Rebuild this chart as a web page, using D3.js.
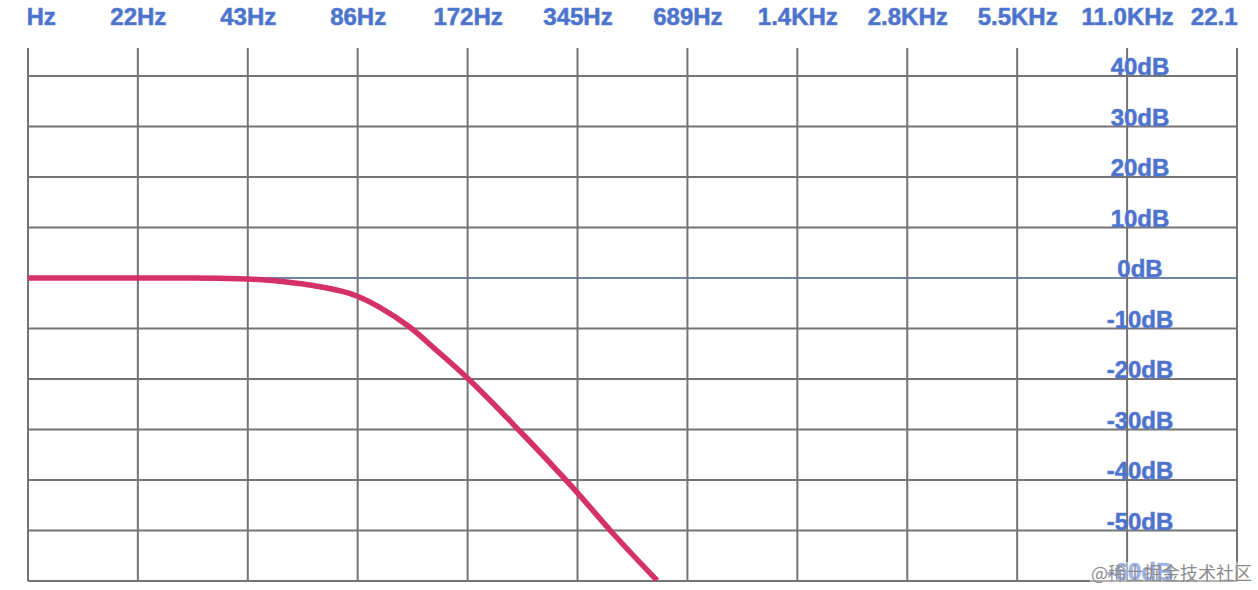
<!DOCTYPE html>
<html lang="en">
<head>
    <meta charset="UTF-8">
    <title>Lowpass frequency response</title>
    <script src="https://d3js.org/d3.v7.min.js"></script>
    <style>
        html, body { margin: 0; padding: 0; background: #fff; }
        .label {
            font: bold 24px "Liberation Sans", Arial, sans-serif;
            fill: #4d72cc;
            stroke: #5a7fd4;
            stroke-width: 0.6px;
        }
        .vgrid line, .hgrid line {
            stroke: #747474;
            stroke-width: 2px;
        }
        .hgrid line.zero {
            stroke: #6f86a8;
        }
        .response {
            fill: none;
            stroke: #d4306a;
            stroke-width: 5.5px;
            stroke-linejoin: round;
        }
        .watermark {
            font: 18px "Noto Sans CJK SC", sans-serif;
            fill: #8c8c8c;
        }
    </style>
</head>
<body>
    <svg width="1258" height="590"></svg>

    <script>
        // ejes: frecuencias de las lineas verticales (octavas de 22050)
        const freqTicks = [10.77, 21.53, 43.07, 86.13, 172.27, 344.53, 689.06, 1378.1, 2756.3, 5512.5, 11025, 22050];
        const freqLabels = ["11Hz", "22Hz", "43Hz", "86Hz", "172Hz", "345Hz", "689Hz", "1.4KHz", "2.8KHz", "5.5KHz", "11.0KHz", "22.1KHz"];
        const dbTicks = [40, 30, 20, 10, 0, -10, -20, -30, -40, -50, -60];

        // respuesta del filtro
        const respFreq = [10.77, 22, 30, 43, 55, 65, 86, 99, 120, 142, 172, 240, 345, 431, 569];
        const respDb = [0, 0, 0, -0.2, -0.8, -1.5, -3.6, -5.8, -9.8, -14.4, -19.8, -30.4, -42.6, -50.6, -59.9];

        const width = 1258, height = 590;
        const plotLeft = 28, plotRight = 1237, plotTop = 48;

        const x = d3.scaleLog().base(2).domain([10.77, 22050]).range([plotLeft, plotRight]);
        const y = d3.scaleLinear().domain([40, -60]).range([76, 581]);

        const svg = d3.select("svg")
            .attr("width", width)
            .attr("height", height);

        svg.append("rect").attr("width", width).attr("height", height).attr("fill", "#fff");

        const defs = svg.append("defs");
        defs.append("clipPath").attr("id", "labelClip")
            .append("rect").attr("x", plotLeft).attr("y", 0).attr("width", plotRight - plotLeft + 1).attr("height", 40);
        defs.append("clipPath").attr("id", "plotClip")
            .append("rect").attr("x", plotLeft).attr("y", plotTop).attr("width", plotRight - plotLeft).attr("height", y(-60) - plotTop);

        // lineas horizontales
        svg.append("g").attr("class", "hgrid")
            .selectAll("line")
            .data(dbTicks)
            .enter()
            .append("line")
            .attr("class", d => d === 0 ? "zero" : null)
            .attr("x1", plotLeft)
            .attr("x2", plotRight)
            .attr("y1", d => y(d))
            .attr("y2", d => y(d));

        // lineas verticales
        svg.append("g").attr("class", "vgrid")
            .selectAll("line")
            .data(freqTicks)
            .enter()
            .append("line")
            .attr("x1", d => x(d))
            .attr("x2", d => x(d))
            .attr("y1", plotTop)
            .attr("y2", y(-60));

        // etiquetas de frecuencia arriba (recortadas en los bordes como en el original)
        const xAxis = d3.axisTop(x)
            .tickValues(freqTicks)
            .tickFormat((d, i) => freqLabels[i])
            .tickSize(0)
            .tickPadding(0);

        const gx = svg.append("g")
            .attr("clip-path", "url(#labelClip)")
            .append("g")
            .attr("transform", "translate(0,25)")
            .call(xAxis);
        gx.attr("font-size", null).attr("font-family", null);
        gx.select(".domain").remove();
        gx.selectAll("text")
            .attr("class", "label")
            .attr("dy", 0)
            .attr("fill", null);

        // curva de respuesta
        const line = d3.line()
            .x((d, i) => x(respFreq[i]))
            .y(d => y(d))
            .curve(d3.curveMonotoneX);

        svg.append("path")
            .datum(respDb)
            .attr("class", "response")
            .attr("clip-path", "url(#plotClip)")
            .attr("d", line);

        // etiquetas dB a la derecha
        svg.append("g")
            .selectAll("text")
            .data(dbTicks)
            .enter()
            .append("text")
            .attr("class", "label")
            .attr("x", 1140)
            .attr("y", d => y(d) - 1)
            .attr("text-anchor", "middle")
            .text(d => d + "dB");

        // marca de agua con fondo semitransparente
        svg.append("rect")
            .attr("x", 1090)
            .attr("y", 562)
            .attr("width", 166)
            .attr("height", 24)
            .attr("fill", "#fff")
            .attr("opacity", 0.45);

        svg.append("text")
            .attr("class", "watermark")
            .attr("x", 1252)
            .attr("y", 580)
            .attr("text-anchor", "end")
            .text("@稀土掘金技术社区");
    </script>
</body>
</html>
